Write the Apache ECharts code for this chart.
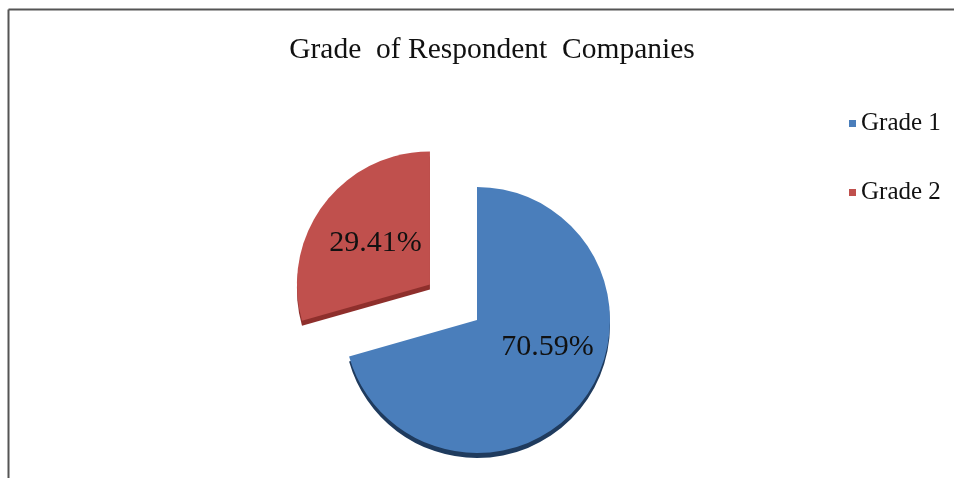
<!DOCTYPE html>
<html>
<head>
<meta charset="utf-8">
<script src="https://cdn.jsdelivr.net/npm/echarts@6/dist/echarts.min.js"></script>
<style>
html,body{margin:0;padding:0;background:#fff;}
#chart{width:954px;height:478px;}
</style>
</head>
<body>
<div id="chart"></div>
<script>
const categories = ['Grade 1', 'Grade 2'];
const values = [70.59, 29.41];
const titleText = 'Grade  of Respondent  Companies';

const colors = ['#4A7EBB', '#C0504D'];
const darkColors = ['#1F3B5E', '#8E2F2C'];
const font = '"Liberation Serif", "Times New Roman", serif';

const chart = echarts.init(document.getElementById('chart'));

const faceData = categories.map((c, i) => ({
  name: c, value: values[i], selected: i === 1,
  itemStyle: { color: colors[i] }
}));
const sideData = categories.map((c, i) => ({
  name: c, value: values[i], selected: i === 1,
  itemStyle: { color: darkColors[i] }
}));

chart.setOption({
  animation: false,
  backgroundColor: '#fff',
  title: {
    text: titleText,
    left: 487, textAlign: 'center', top: 30,
    textStyle: { fontFamily: font, fontSize: 29.5, fontWeight: 'normal', color: '#111' }
  },
  legend: {
    orient: 'vertical',
    left: 844, top: 106,
    itemWidth: 7, itemHeight: 7, itemGap: 44,
    icon: 'rect',
    data: categories,
    selectedMode: false,
    textStyle: { fontFamily: font, fontSize: 25, color: '#111' }
  },
  graphic: [
    { type: 'line', shape: { x1: 8.5, y1: 9.5, x2: 954, y2: 9.5 }, style: { stroke: '#555', lineWidth: 2 } },
    { type: 'line', shape: { x1: 8.5, y1: 9.5, x2: 8.5, y2: 478 }, style: { stroke: '#555', lineWidth: 2 } }
  ],
  series: [
    {
      type: 'pie', name: 'Grade',
      center: [477, 320], radius: 133,
      startAngle: 90, clockwise: true,
      selectedMode: 'single', selectedOffset: 59,
      itemStyle: { borderColor: '#f4e0df', borderWidth: 0 },
      label: {
        show: true, position: 'inside',
        formatter: p => p.value.toFixed(2) + '%',
        fontFamily: font, fontSize: 30, color: '#111'
      },
      labelLayout: p => (p.dataIndex === 0 ? { dx: 15, dy: -15 } : { dx: 1, dy: 1 }),
      labelLine: { show: false },
      emphasis: { disabled: true },
      data: faceData, z: 3
    },
    {
      type: 'pie', name: 'side', silent: true,
      center: [477, 325], radius: 133,
      startAngle: 90, clockwise: true,
      selectedMode: 'single', selectedOffset: 59,
      label: { show: false }, labelLine: { show: false },
      emphasis: { disabled: true },
      legendHoverLink: false,
      data: sideData, z: 1
    }
  ]
});
</script>
</body>
</html>
